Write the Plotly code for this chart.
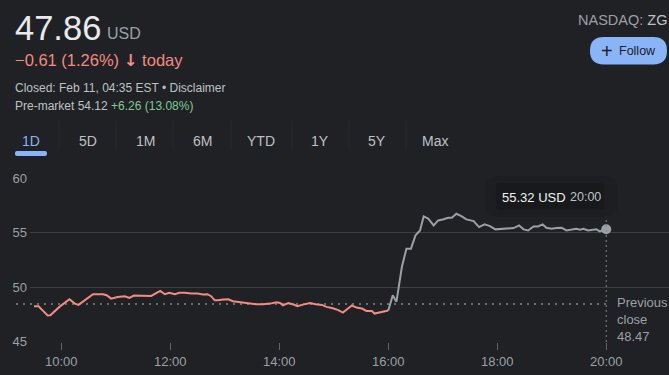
import plotly.graph_objects as go
import pandas as pd

# ---------------- data ----------------
DAY = "2025-02-10 "
reg_times = ["09:30","09:35","09:40","09:45","09:48","09:58","10:09","10:15","10:19","10:28",
             "10:35","10:46","10:50","10:55","11:02","11:10","11:15","11:20","11:28","11:34",
             "11:39","11:45","11:49","11:54","11:59","12:05","12:10","12:16","12:23","12:30",
             "12:36","12:41","12:45","12:49","12:53","12:58","13:04","13:09","13:15","13:20",
             "13:28","13:35","13:42","13:50","13:57","14:01","14:04","14:10","14:15","14:20",
             "14:26","14:34","14:40","14:47","14:52","14:59","15:05","15:10","15:15","15:20",
             "15:25","15:31","15:36","15:42","15:45","15:51","15:57","16:00"]
reg_prices = [48.26,48.26,47.83,47.41,47.44,48.20,48.90,48.50,48.38,48.90,
              49.36,49.36,49.27,48.96,49.10,49.18,49.02,49.24,49.20,49.20,
              49.20,49.48,49.66,49.36,49.50,49.36,49.50,49.50,49.42,49.42,
              49.33,49.36,49.18,48.80,48.80,48.87,48.90,48.72,48.66,48.56,
              48.50,48.44,48.44,48.50,48.63,48.56,48.35,48.56,48.44,48.26,
              48.41,48.56,48.44,48.38,48.20,48.08,47.90,47.68,48.01,48.33,
              48.14,48.05,47.83,47.83,47.59,47.68,47.78,47.86]
ah_times = ["16:00","16:05","16:09","16:15","16:20","16:25","16:30","16:35","16:39","16:44",
            "16:50","16:55","17:00","17:06","17:10","17:15","17:21","17:26","17:34","17:40",
            "17:46","17:52","17:58","18:05","18:12","18:18","18:24","18:29","18:34","18:40",
            "18:45","18:50","18:54","19:00","19:05","19:11","19:16","19:22","19:27","19:31",
            "19:35","19:40","19:45","19:49","19:53","20:00"]
ah_prices = [47.86,49.27,48.66,51.86,53.54,53.54,54.76,55.21,56.50,56.29,
             55.67,56.13,56.22,56.38,56.38,56.74,56.50,56.22,56.07,55.52,
             55.77,55.61,55.31,55.37,55.37,55.43,55.67,55.31,55.21,55.58,
             55.58,55.77,55.46,55.37,55.43,55.46,55.21,55.28,55.37,55.28,
             55.37,55.21,55.28,55.31,55.12,55.32]
prev_close = 48.47
x_tick_labels = ["10:00","12:00","14:00","16:00","18:00","20:00"]
y_tick_values = [45, 50, 55, 60]

# ---------------- layout geometry ----------------
W, H = 669, 375
L, R, T, B = 30, 0, 178, 33
PW, PH = W - L - R, H - T - B
X_START = pd.Timestamp(DAY + "09:25:36")
X_END = pd.Timestamp(DAY + "21:09:06")

BG = "#202124"
GRID = "#3c4043"
GREY = "#9aa0a6"
LIGHT = "#bdc1c6"
WHITE = "#e8eaed"
RED = "#f28b82"
GREEN = "#81c995"
BLUE = "#8ab4f8"
FONT = "Liberation Sans, Arial, sans-serif"


def pp(px, py):
    return (px - L) / PW, (H - B - py) / PH


def tpaper(t):
    return (pd.Timestamp(t) - X_START) / (X_END - X_START)


def rrect(x0, y0, x1, y1, r):
    def P(x, y):
        a, b = pp(x, y)
        return f"{a:.5f},{b:.5f}"
    return (f"M {P(x0+r, y0)} L {P(x1-r, y0)} Q {P(x1, y0)} {P(x1, y0+r)} "
            f"L {P(x1, y1-r)} Q {P(x1, y1)} {P(x1-r, y1)} L {P(x0+r, y1)} "
            f"Q {P(x0, y1)} {P(x0, y1-r)} L {P(x0, y0+r)} Q {P(x0, y0)} {P(x0+r, y0)} Z")


reg_x = [DAY + t for t in reg_times]
ah_x = [DAY + t for t in ah_times]

fig = go.Figure()
fig.add_trace(go.Scatter(x=reg_x, y=reg_prices, mode="lines",
                         line=dict(color=RED, width=2), hoverinfo="skip"))
fig.add_trace(go.Scatter(x=ah_x, y=ah_prices, mode="lines",
                         line=dict(color=GREY, width=2), hoverinfo="skip"))
fig.add_trace(go.Scatter(x=[ah_x[-1]], y=[ah_prices[-1]], mode="markers",
                         marker=dict(color=GREY, size=10), hoverinfo="skip"))

shapes = []
# previous close dotted line
x_end_paper = tpaper(ah_x[-1])
shapes.append(dict(type="line", xref="paper", yref="y", x0=pp(16, 0)[0], x1=x_end_paper,
                   y0=prev_close, y1=prev_close,
                   line=dict(color="#80868b", width=1.5, dash="2px,5px"), layer="below"))
# vertical crosshair at last point
shapes.append(dict(type="line", xref="paper", yref="paper", x0=x_end_paper, x1=x_end_paper,
                   y0=0, y1=1, line=dict(color="#80868b", width=1, dash="2px,3px")))
# tooltip
shapes.append(dict(type="path", xref="paper", yref="paper", path=rrect(485, 176, 618, 217, 14),
                   fillcolor="#1d1e21", line=dict(width=0), layer="above"))
shapes.append(dict(type="path", xref="paper", yref="paper", path=rrect(496, 183, 604, 210, 4),
                   fillcolor="#18191b", line=dict(width=0), layer="above"))
# follow button
shapes.append(dict(type="path", xref="paper", yref="paper", path=rrect(590, 37, 667, 64.5, 13.7),
                   fillcolor=BLUE, line=dict(width=0)))
# tab underline
shapes.append(dict(type="path", xref="paper", yref="paper", path=rrect(15, 151, 47, 156, 2),
                   fillcolor=BLUE, line=dict(width=0)))
# tab separators
for sx in [59, 116, 173, 231, 292, 349, 406]:
    a, b0 = pp(sx, 121)
    _, b1 = pp(sx, 150)
    shapes.append(dict(type="line", xref="paper", yref="paper", x0=a, x1=a, y0=b0, y1=b1,
                       line=dict(color="#2a2b2f", width=1)))

ann = []


def text(px, py, s, size, color, xanchor="left", yanchor="middle", **kw):
    a, b = pp(px, py)
    ann.append(dict(x=a, y=b, xref="paper", yref="paper", text=s, showarrow=False,
                    xanchor=xanchor, yanchor=yanchor,
                    font=dict(size=size, color=color, family=kw.get("family", FONT)),
                    align=kw.get("align", "left")))


text(13, 28, "47.86", 34.5, WHITE)
text(105, 33.5, "USD", 16, GREY)
text(13, 60.5, "−0.61 (1.26%) <span style='font-family:DejaVu Sans'><b>↓</b></span> today",
     16.5, RED)
text(13, 88, "Closed: Feb 11, 04:35 EST • Disclaimer", 12, LIGHT)
text(13, 106, f"Pre-market 54.12 <span style='color:{GREEN}'>+6.26 (13.08%)</span>", 12, LIGHT)
text(669, 20, f"NASDAQ: <span style='color:{LIGHT}'>ZG</span>", 14.5, GREY, xanchor="right")
text(607, 50.5, "+", 20, BG, xanchor="center")
text(637.5, 51, "Follow", 12.5, BG, xanchor="center")

tabs = ["1D", "5D", "1M", "6M", "YTD", "1Y", "5Y", "Max"]
tab_cx = [31, 88, 145, 202, 261, 320, 377, 435]
for name, cx in zip(tabs, tab_cx):
    text(cx, 140.5, name, 14, BLUE if name == "1D" else LIGHT, xanchor="center")

# tooltip text
text(500, 197, f"{ah_prices[-1]:.2f} USD", 13, "#f1f3f4")
text(603, 197, ah_times[-1], 12.5, LIGHT, xanchor="right")

# previous close label
text(615, 319, f"Previous<br>close<br>{prev_close:.2f}", 13, GREY)

fig.update_layout(
    width=W, height=H, autosize=False,
    margin=dict(l=L, r=R, t=T, b=B, pad=0),
    paper_bgcolor=BG, plot_bgcolor=BG,
    showlegend=False,
    font=dict(family=FONT, color=GREY, size=13),
    shapes=shapes, annotations=ann,
    xaxis=dict(type="date", range=[X_START, X_END],
               tickvals=[DAY + t for t in x_tick_labels], ticktext=x_tick_labels,
               showgrid=False, zeroline=False, showline=False,
               ticks="outside", ticklen=7, tickwidth=1, tickcolor="#5f6368",
               tickfont=dict(size=13, color=GREY), fixedrange=True),
    yaxis=dict(range=[44.98, 60.02], tickvals=y_tick_values,
               ticktext=[str(v) for v in y_tick_values],
               showgrid=True, gridcolor=GRID, gridwidth=1.3, zeroline=False, showline=False,
               ticks="", ticklabelstandoff=2,
               tickfont=dict(size=13, color=GREY), fixedrange=True),
)

fig.write_html("out.html", config={"displayModeBar": False})
with open("out.html", "r", encoding="utf-8") as f:
    html = f.read()
html = html.replace("<body>", '<body style="margin:0;overflow:hidden;">', 1)
with open("out.html", "w", encoding="utf-8") as f:
    f.write(html)
